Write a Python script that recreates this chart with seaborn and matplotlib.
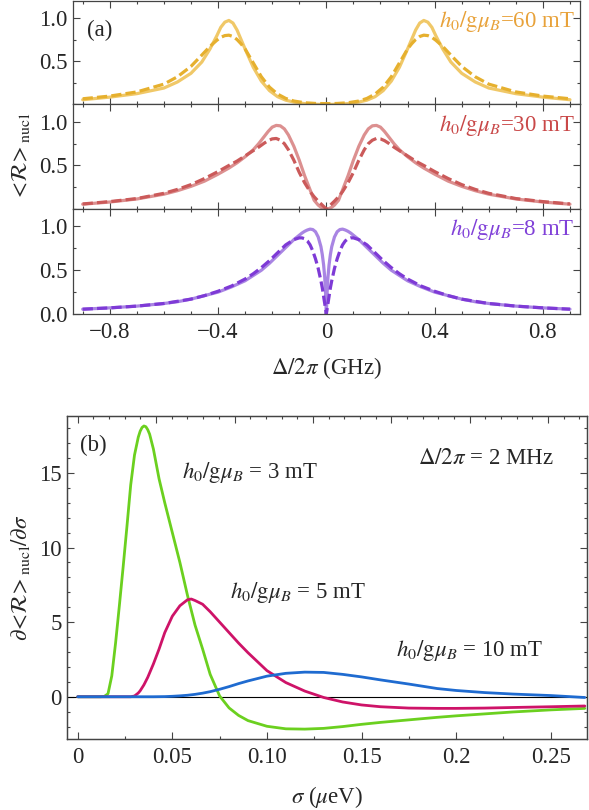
import numpy as np
import pandas as pd
import matplotlib
matplotlib.use("Agg")
import matplotlib.pyplot as plt
import seaborn as sns
from matplotlib.ticker import MultipleLocator, FixedLocator, FixedFormatter

# ---------- panel (a): <R>_nucl vs detuning (GHz), one grid per field ----------
det_60 = [-0.9, -0.8, -0.7, -0.6, -0.55, -0.5, -0.46, -0.43, -0.405, -0.39, -0.375, -0.36, -0.345,
          -0.33, -0.315, -0.3, -0.27, -0.24, -0.21, -0.18, -0.15, -0.12, -0.08, -0.04,
          0.0, 0.04, 0.08, 0.12, 0.15, 0.18, 0.21, 0.24, 0.27, 0.3, 0.315, 0.33, 0.345, 0.36, 0.375,
          0.39, 0.405, 0.43, 0.46, 0.5, 0.55, 0.6, 0.7, 0.8, 0.9]
r60_solid = [0.055, 0.085, 0.125, 0.19, 0.26, 0.36, 0.49, 0.64, 0.79, 0.89, 0.95, 0.97, 0.94, 0.86,
             0.75, 0.64, 0.43, 0.27, 0.16, 0.09, 0.05, 0.028, 0.01, 0.003,
             0.0, 0.003, 0.01, 0.028, 0.05, 0.09, 0.16, 0.27, 0.43, 0.64, 0.75, 0.86, 0.94, 0.97, 0.95,
             0.89, 0.79, 0.64, 0.49, 0.36, 0.26, 0.19, 0.125, 0.085, 0.055]
r60_dash = [0.066, 0.097, 0.145, 0.235, 0.32, 0.44, 0.57, 0.67, 0.74, 0.775, 0.795, 0.8, 0.785, 0.75,
            0.7, 0.64, 0.48, 0.32, 0.2, 0.12, 0.07, 0.04, 0.02, 0.012,
            0.01, 0.012, 0.02, 0.04, 0.07, 0.12, 0.2, 0.32, 0.48, 0.64, 0.7, 0.75, 0.785, 0.8, 0.795,
            0.775, 0.74, 0.67, 0.57, 0.44, 0.32, 0.235, 0.145, 0.097, 0.066]

det_30 = [-0.9, -0.8, -0.7, -0.6, -0.55, -0.5, -0.45, -0.4, -0.36, -0.33, -0.3, -0.27, -0.25, -0.23,
          -0.215, -0.2, -0.185, -0.17, -0.155, -0.14, -0.12, -0.1, -0.08, -0.06, -0.045, -0.03, -0.02, -0.01,
          0.0, 0.01, 0.02, 0.03, 0.045, 0.06, 0.08, 0.1, 0.12, 0.14, 0.155, 0.17, 0.185, 0.2, 0.215,
          0.23, 0.25, 0.27, 0.3, 0.33, 0.36, 0.4, 0.45, 0.5, 0.55, 0.6, 0.7, 0.8, 0.9]
r30_solid = [0.055, 0.08, 0.115, 0.17, 0.21, 0.26, 0.32, 0.4, 0.47, 0.53, 0.6, 0.68, 0.75, 0.83,
             0.89, 0.94, 0.96, 0.955, 0.92, 0.85, 0.72, 0.56, 0.38, 0.22, 0.1, 0.045, 0.02, 0.005,
             0.0, 0.005, 0.02, 0.045, 0.1, 0.22, 0.38, 0.56, 0.72, 0.85, 0.92, 0.955, 0.96, 0.94, 0.89,
             0.83, 0.75, 0.68, 0.6, 0.53, 0.47, 0.4, 0.32, 0.26, 0.21, 0.17, 0.115, 0.08, 0.055]
r30_dash = [0.058, 0.085, 0.12, 0.18, 0.225, 0.28, 0.35, 0.43, 0.5, 0.55, 0.61, 0.67, 0.71, 0.755,
            0.785, 0.805, 0.81, 0.79, 0.75, 0.68, 0.56, 0.42, 0.3, 0.2, 0.14, 0.09, 0.06, 0.03,
            0.0, 0.03, 0.06, 0.09, 0.14, 0.2, 0.3, 0.42, 0.56, 0.68, 0.75, 0.79, 0.81, 0.805, 0.785,
            0.755, 0.71, 0.67, 0.61, 0.55, 0.5, 0.43, 0.35, 0.28, 0.225, 0.18, 0.12, 0.085, 0.058]

det_8 = [-0.9, -0.8, -0.7, -0.6, -0.55, -0.5, -0.45, -0.4, -0.35, -0.3, -0.27, -0.24, -0.21, -0.18,
         -0.15, -0.12, -0.1, -0.09, -0.08, -0.07, -0.06, -0.05, -0.04, -0.03, -0.02, -0.015, -0.01,
         -0.006, -0.003,
         0.0, 0.003, 0.006, 0.01, 0.015, 0.02, 0.03, 0.04, 0.05, 0.06, 0.07, 0.08, 0.09, 0.1, 0.12,
         0.15, 0.18, 0.21, 0.24, 0.27, 0.3, 0.35, 0.4, 0.45, 0.5, 0.55, 0.6, 0.7, 0.8, 0.9]
r8_solid = [0.055, 0.07, 0.09, 0.12, 0.14, 0.17, 0.21, 0.25, 0.31, 0.38, 0.44, 0.5, 0.58, 0.67,
            0.76, 0.85, 0.9, 0.925, 0.945, 0.96, 0.97, 0.965, 0.94, 0.88, 0.77, 0.68, 0.56, 0.42, 0.25,
            0.0, 0.25, 0.42, 0.56, 0.68, 0.77, 0.88, 0.94, 0.965, 0.97, 0.96, 0.945, 0.925, 0.9, 0.85,
            0.76, 0.67, 0.58, 0.5, 0.44, 0.38, 0.31, 0.25, 0.21, 0.17, 0.14, 0.12, 0.09, 0.07, 0.055]
r8_dash = [0.055, 0.07, 0.09, 0.12, 0.145, 0.17, 0.21, 0.26, 0.32, 0.4, 0.46, 0.53, 0.61, 0.7,
           0.79, 0.85, 0.87, 0.87, 0.86, 0.835, 0.79, 0.72, 0.63, 0.52, 0.38, 0.3, 0.2, 0.12, 0.06,
           0.0, 0.06, 0.12, 0.2, 0.3, 0.38, 0.52, 0.63, 0.72, 0.79, 0.835, 0.86, 0.87, 0.87, 0.85,
           0.79, 0.7, 0.61, 0.53, 0.46, 0.4, 0.32, 0.26, 0.21, 0.17, 0.145, 0.12, 0.09, 0.07, 0.055]

fields_a = ['60 mT', '30 mT', '8 mT']
xticks_a = [-0.8, -0.4, 0.0, 0.4, 0.8]
xticklabels_a = ['\u22120.8', '\u22120.4', '0', '0.4', '0.8']

# ---------- panel (b): d<R>/d sigma vs sigma (ueV) ----------
sigma = [0.0, 0.005, 0.01, 0.012, 0.014, 0.016, 0.018, 0.02, 0.022, 0.024,
         0.026, 0.028, 0.03, 0.032, 0.033, 0.034, 0.035, 0.036, 0.037, 0.038,
         0.04, 0.043, 0.046, 0.05, 0.054, 0.058, 0.06, 0.062, 0.066, 0.07,
         0.075, 0.08, 0.085, 0.09, 0.1, 0.11, 0.12, 0.13, 0.14, 0.15,
         0.16, 0.175, 0.19, 0.2, 0.215, 0.23, 0.25, 0.268]
dr_3mT = [0, 0, 0, 0, 0.02, 0.2, 1.4, 3.6, 6.1, 8.7,
          11.4, 14.2, 16.2, 17.4, 17.8, 18.05, 18.15, 18.1, 17.9, 17.6,
          16.6, 14.6, 13.0, 11.0, 9.0, 6.8, 5.8, 4.8, 3.2, 1.5,
          0.05, -0.75, -1.25, -1.6, -1.98, -2.15, -2.17, -2.12, -2.0, -1.85,
          -1.72, -1.55, -1.38, -1.28, -1.15, -1.02, -0.88, -0.78]
dr_5mT = [0, 0, 0, 0, 0, 0, 0, 0, 0, 0,
          0, 0.0, 0.05, 0.25, 0.4, 0.6, 0.8, 1.05, 1.3, 1.6,
          2.2, 3.2, 4.3, 5.4, 6.1, 6.5, 6.55, 6.45, 6.2, 5.7,
          5.0, 4.3, 3.6, 2.95, 1.75, 0.95, 0.38, -0.05, -0.35, -0.55,
          -0.67, -0.76, -0.78, -0.78, -0.76, -0.72, -0.67, -0.62]
dr_10mT = [0, 0, 0, 0, 0, 0, 0, 0, 0, 0,
           0, 0, 0, 0, 0, 0, 0, 0, 0, 0,
           0.0, 0.005, 0.01, 0.03, 0.06, 0.1, 0.13, 0.16, 0.24, 0.34,
           0.5, 0.68, 0.88, 1.06, 1.38, 1.57, 1.65, 1.63, 1.5, 1.33,
           1.13, 0.85, 0.55, 0.42, 0.28, 0.18, 0.08, -0.05]
fields_b = ['3 mT', '5 mT', '10 mT']
xticks_b = [0.0, 0.05, 0.1, 0.15, 0.2, 0.25]
xticklabels_b = ['0', '0.05', '0.10', '0.15', '0.2', '0.25']

FS = 16.5

sns.set_style('ticks')
plt.rcParams['font.family'] = 'serif'
plt.rcParams['font.serif'] = ['Liberation Serif', 'DejaVu Serif']
plt.rcParams['mathtext.fontset'] = 'stix'
plt.rcParams['font.size'] = FS
plt.rcParams['axes.edgecolor'] = '#444444'
plt.rcParams['axes.linewidth'] = 0.9

fig = plt.figure(figsize=(5.89, 8.10), dpi=100)

def style_ticks(ax):
    ax.tick_params(which='both', direction='in', top=True, right=True, color='#444444', width=0.8)
    ax.tick_params(which='major', length=5, labelsize=FS, pad=4)
    ax.tick_params(which='minor', length=2.5)

# panel (a)
solid_cols = ['#F0C868', '#DC9090', '#A985E3']
dash_cols = ['#E6B02E', '#CB5A5A', '#7E3AD6']
text_cols = ['#E8A23A', '#C94848', '#8040D8']
boxes = [(0.87099, 0.12839), (0.74198, 0.12901), (0.61235, 0.12963)]
curves = [(det_60, r60_solid, r60_dash), (det_30, r30_solid, r30_dash), (det_8, r8_solid, r8_dash)]

axes_a = []
for i, (b, h) in enumerate(boxes):
    ax = fig.add_axes([0.1234, b, 0.8613, h])
    df = pd.DataFrame({'d': curves[i][0], 's': curves[i][1], 'q': curves[i][2]})
    sns.lineplot(data=df, x='d', y='s', ax=ax, color=solid_cols[i], lw=2.3, estimator=None)
    sns.lineplot(data=df, x='d', y='q', ax=ax, color=dash_cols[i], lw=2.3, estimator=None)
    ax.lines[-1].set_dashes((3.2, 1.3))
    ax.set_xlim(-0.937, 0.937)
    ax.set_ylim(0, 1.2)
    ax.xaxis.set_major_locator(FixedLocator(xticks_a))
    ax.xaxis.set_minor_locator(MultipleLocator(0.1))
    ax.yaxis.set_minor_locator(MultipleLocator(0.25))
    if i < 2:
        ax.set_yticks([0.5, 1.0])
        ax.set_yticklabels(['0.5', '1.0'])
        ax.set_xticklabels([])
    else:
        ax.set_yticks([0.0, 0.5, 1.0])
        ax.set_yticklabels(['0.0', '0.5', '1.0'])
        ax.xaxis.set_major_formatter(FixedFormatter(xticklabels_a))
    ax.set_xlabel('')
    ax.set_ylabel('')
    style_ticks(ax)
    ax.tick_params(axis='x', pad=6)
    ax.text(0.99, 0.80, r'$h_0/\mathrm{g}\mu_B$=' + fields_a[i], transform=ax.transAxes,
            ha='right', va='center', color=text_cols[i], fontsize=FS)
    axes_a.append(ax)

axes_a[0].text(0.028, 0.715, '(a)', transform=axes_a[0].transAxes, ha='left', va='center', fontsize=FS)
fig.text(0.5546, 0.5457, r'$\Delta/2\pi$ (GHz)', ha='center', va='center', fontsize=FS)
fig.text(0.034, 0.806, r'$<\!\mathcal{R}\!>_{\mathrm{nucl}}$', rotation=90, ha='center', va='center', fontsize=FS)

# panel (b)
axb = fig.add_axes([0.1143, 0.0877, 0.8818, 0.3993])
dfb = pd.DataFrame({'s': sigma, 'g': dr_3mT, 'm': dr_5mT, 'b': dr_10mT})
axb.axhline(0, color='black', lw=0.8, zorder=1)
sns.lineplot(data=dfb, x='s', y='g', ax=axb, color='#6BD01F', lw=2.0, estimator=None)
sns.lineplot(data=dfb, x='s', y='m', ax=axb, color='#CE1368', lw=2.0, estimator=None)
sns.lineplot(data=dfb, x='s', y='b', ax=axb, color='#1F6BD0', lw=2.0, estimator=None)
axb.set_xlim(-0.0055, 0.269)
axb.set_ylim(-2.83, 18.85)
axb.xaxis.set_major_locator(FixedLocator(xticks_b))
axb.xaxis.set_major_formatter(FixedFormatter(xticklabels_b))
axb.xaxis.set_minor_locator(MultipleLocator(0.025))
axb.set_yticks([0, 5, 10, 15])
axb.set_yticklabels(['0', '5', '10', '15'])
axb.yaxis.set_minor_locator(MultipleLocator(1))
axb.set_xlabel('')
axb.set_ylabel('')
style_ticks(axb)
axb.tick_params(axis='x', top=False, pad=6)

# top frame ticks of panel (b) follow their own spacing
axt = axb.twiny()
axt.set_xlim(axb.get_xlim())
axt.xaxis.set_major_locator(MultipleLocator(0.04143))
axt.xaxis.set_minor_locator(MultipleLocator(0.04143 / 5))
axt.tick_params(which='both', direction='in', top=True, labeltop=False, color='#444444', width=0.8)
axt.tick_params(which='major', length=5)
axt.tick_params(which='minor', length=2.5)

axb.text(0.0012, 16.85, '(b)', ha='left', va='center', fontsize=FS)
axb.text(0.055, 15.0, r'$h_0/\mathrm{g}\mu_B$ = ' + fields_b[0], ha='left', va='center', fontsize=FS)
axb.text(0.0807, 7.0, r'$h_0/\mathrm{g}\mu_B$ = ' + fields_b[1], ha='left', va='center', fontsize=FS)
axb.text(0.168, 3.1, r'$h_0/\mathrm{g}\mu_B$ = ' + fields_b[2], ha='left', va='center', fontsize=FS)
axb.text(0.180, 16.0, r'$\Delta/2\pi$ = 2 MHz', ha='left', va='center', fontsize=FS)

fig.text(0.5546, 0.016, r'$\sigma$ ($\mu$eV)', ha='center', va='center', fontsize=FS)
fig.text(0.034, 0.2864, r'$\partial\!<\!\mathcal{R}\!>_{\mathrm{nucl}}/\partial\sigma$', rotation=90,
         ha='center', va='center', fontsize=FS)

fig.savefig('out.png', dpi=100)
